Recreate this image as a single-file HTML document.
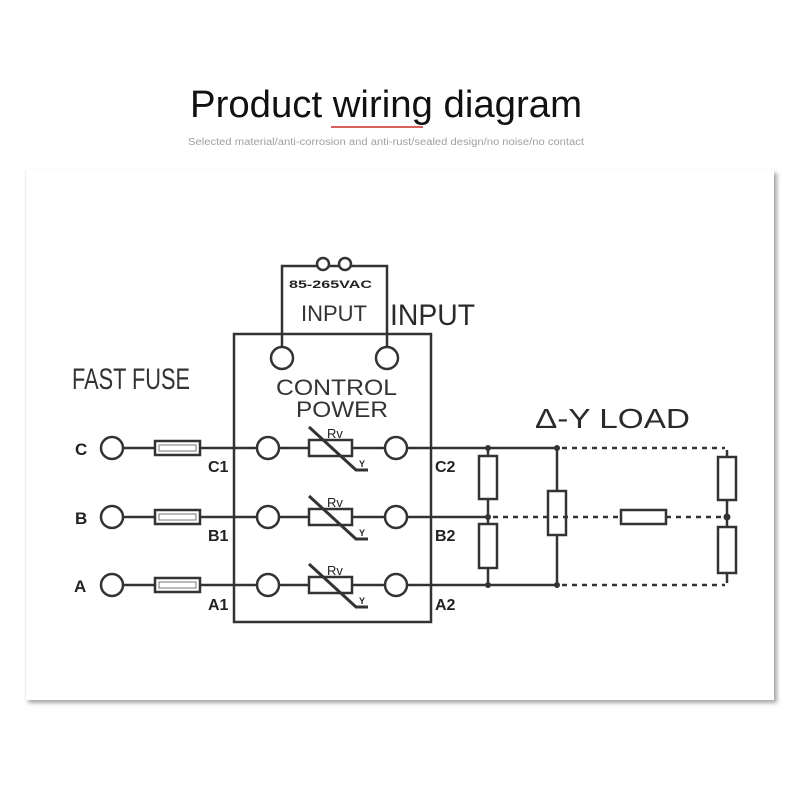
<!DOCTYPE html>
<html><head><meta charset="utf-8"><style>
html,body{margin:0;padding:0;background:#fff;}
body{width:800px;height:800px;position:relative;overflow:hidden;font-family:"Liberation Sans",sans-serif;}
.panel{position:absolute;left:25px;top:170px;width:748px;height:530px;background:#fff;box-shadow:3px 3px 4px rgba(0,0,0,0.35);border-left:1px solid #eee;}
svg{position:absolute;left:0;top:0;}
</style></head><body>
<div class="panel"></div>
<svg width="800" height="800" viewBox="0 0 800 800" font-family="Liberation Sans, sans-serif">
<text x="190" y="117" font-size="38" fill="#111" textLength="392" lengthAdjust="spacingAndGlyphs">Product wiring diagram</text>
<line x1="331" y1="127" x2="423" y2="127" stroke="#d9605a" stroke-width="2"/>
<text x="188" y="145" font-size="10" fill="#a0a0a0" textLength="396" lengthAdjust="spacingAndGlyphs">Selected material/anti-corrosion and anti-rust/sealed design/no noise/no contact</text>

<g stroke="#333" stroke-width="2.5" fill="none">
<rect x="234" y="334" width="197" height="288"/>
<polyline points="282,347 282,266 317,266"/>
<polyline points="387,347 387,266 351,266"/>
<line x1="329" y1="266" x2="339" y2="266"/>
<circle cx="323" cy="264" r="6"/><circle cx="345" cy="264" r="6"/>
<circle cx="282" cy="358" r="11"/><circle cx="387" cy="358" r="11"/>
</g>
<text x="289" y="288" font-size="11" fill="#222" font-weight="bold" textLength="83" lengthAdjust="spacingAndGlyphs">85-265VAC</text>
<text x="301" y="321" font-size="22" fill="#333" textLength="66" lengthAdjust="spacingAndGlyphs">INPUT</text>
<text x="390" y="325" font-size="30" fill="#2a2a2a" textLength="85" lengthAdjust="spacingAndGlyphs">INPUT</text>
<text x="72" y="389" font-size="30" fill="#333" textLength="118" lengthAdjust="spacingAndGlyphs">FAST FUSE</text>
<text x="276" y="395" font-size="22" fill="#333" textLength="121" lengthAdjust="spacingAndGlyphs">CONTROL</text>
<text x="296" y="417" font-size="22" fill="#333" textLength="92" lengthAdjust="spacingAndGlyphs">POWER</text>
<text x="535" y="428" font-size="28" fill="#2a2a2a" textLength="155" lengthAdjust="spacingAndGlyphs">Δ-Y LOAD</text>

<g stroke="#333" stroke-width="2.5" fill="none">
<circle cx="112" cy="448" r="11"/><line x1="123" y1="448" x2="155" y2="448"/>
<rect x="155" y="441" width="45" height="14"/><line x1="200" y1="448" x2="257" y2="448"/>
<circle cx="268" cy="448" r="11"/><line x1="279" y1="448" x2="309" y2="448"/>
<rect x="309" y="440" width="43" height="16"/><line x1="352" y1="448" x2="385" y2="448"/>
<polyline points="309,427 356,470 368,470" stroke-width="3"/>
<circle cx="396" cy="448" r="11"/><line x1="407" y1="448" x2="557" y2="448"/>
<circle cx="112" cy="517" r="11"/><line x1="123" y1="517" x2="155" y2="517"/>
<rect x="155" y="510" width="45" height="14"/><line x1="200" y1="517" x2="257" y2="517"/>
<circle cx="268" cy="517" r="11"/><line x1="279" y1="517" x2="309" y2="517"/>
<rect x="309" y="509" width="43" height="16"/><line x1="352" y1="517" x2="385" y2="517"/>
<polyline points="309,496 356,539 368,539" stroke-width="3"/>
<circle cx="396" cy="517" r="11"/><line x1="407" y1="517" x2="488" y2="517"/>
<circle cx="112" cy="585" r="11"/><line x1="123" y1="585" x2="155" y2="585"/>
<rect x="155" y="578" width="45" height="14"/><line x1="200" y1="585" x2="257" y2="585"/>
<circle cx="268" cy="585" r="11"/><line x1="279" y1="585" x2="309" y2="585"/>
<rect x="309" y="577" width="43" height="16"/><line x1="352" y1="585" x2="385" y2="585"/>
<polyline points="309,564 356,607 368,607" stroke-width="3"/>
<circle cx="396" cy="585" r="11"/><line x1="407" y1="585" x2="557" y2="585"/>
<line x1="488" y1="448" x2="488" y2="456"/><rect x="479" y="456" width="18" height="43"/><line x1="488" y1="499" x2="488" y2="524"/>
<rect x="479" y="524" width="18" height="44"/><line x1="488" y1="568" x2="488" y2="585"/>
<line x1="557" y1="448" x2="557" y2="491"/><rect x="548" y="491" width="18" height="44"/><line x1="557" y1="535" x2="557" y2="585"/>
<rect x="621" y="510" width="45" height="14"/>
<line x1="727" y1="450" x2="727" y2="457"/><rect x="718" y="457" width="18" height="43"/><line x1="727" y1="500" x2="727" y2="527"/>
<rect x="718" y="527" width="18" height="46"/><line x1="727" y1="573" x2="727" y2="583"/>
</g>
<g stroke="#777" stroke-width="1" fill="none">
<rect x="159" y="445" width="37" height="6"/>
<rect x="159" y="514" width="37" height="6"/>
<rect x="159" y="582" width="37" height="6"/>
</g>
<g stroke="#333" stroke-width="2.5" stroke-dasharray="5,5" fill="none">
<line x1="562" y1="448" x2="725" y2="448"/>
<line x1="562" y1="585" x2="725" y2="585"/>
<line x1="493" y1="517" x2="621" y2="517"/>
<line x1="666" y1="517" x2="725" y2="517"/>
</g>
<g fill="#333">
<circle cx="488" cy="448" r="3"/><circle cx="488" cy="517" r="3"/><circle cx="488" cy="585" r="3"/>
<circle cx="557" cy="448" r="3"/><circle cx="557" cy="585" r="3"/><circle cx="727" cy="517" r="3.5"/>
</g>
<g font-size="17" fill="#222" font-weight="bold">
<text x="75" y="455">C</text><text x="75" y="524">B</text><text x="74" y="592">A</text>
<text x="208" y="472" font-size="16">C1</text><text x="208" y="541" font-size="16">B1</text><text x="208" y="610" font-size="16">A1</text>
<text x="435" y="472" font-size="16">C2</text><text x="435" y="541" font-size="16">B2</text><text x="435" y="610" font-size="16">A2</text>
</g>
<g font-size="13" fill="#222">
<text x="327" y="438">Rv</text><text x="327" y="507">Rv</text><text x="327" y="575">Rv</text>
<text x="359" y="467" font-size="9" font-weight="bold">Y</text><text x="359" y="536" font-size="9" font-weight="bold">Y</text><text x="359" y="604" font-size="9" font-weight="bold">Y</text>
</g>
</svg>
</body></html>
